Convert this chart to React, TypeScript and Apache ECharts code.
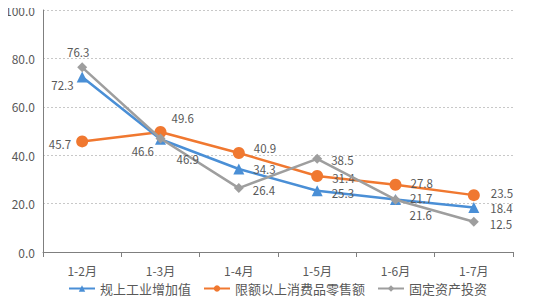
import React, { useEffect, useRef } from "react";
import * as echarts from "echarts";

const categories = ["1-2月", "1-3月", "1-4月", "1-5月", "1-6月", "1-7月"];
const industry = [72.3, 46.6, 34.3, 25.3, 21.7, 18.4];
const retail = [45.7, 49.6, 40.9, 31.4, 27.8, 23.5];
const investment = [76.3, 46.9, 26.4, 38.5, 21.6, 12.5];
const seriesNames = ["规上工业增加值", "限额以上消费品零售额", "固定资产投资"];

// label placement per point: [position, offsetX, offsetY]
const industryLabelPos: [string, number, number][] = [
  ["left", 2, 8], ["left", 4, 12], ["right", 4, 0], ["right", 4, 2], ["right", 4, -1], ["right", 6, 1],
];
const retailLabelPos: [string, number, number][] = [
  ["left", 0, 3], ["right", 0, -14], ["right", 4, -5], ["right", 4, 2], ["right", 4, -2], ["right", 6, -2],
];
const investmentLabelPos: [string, number, number][] = [
  ["top", -4, 0], ["right", 6, 20], ["right", 4, 2], ["right", 4, 1], ["right", 4, 15], ["right", 6, 2],
];

const TEXT = "#595959";
const FONT = "'Noto Sans CJK SC', 'Noto Sans', sans-serif";

function mkData(vals: number[], pos: [string, number, number][]) {
  return vals.map((v, i) => ({
    value: v,
    label: { position: pos[i][0] as any, offset: [pos[i][1], pos[i][2]] },
  }));
}

export default function App() {
  const ref = useRef<HTMLDivElement>(null);
  useEffect(() => {
    if (!ref.current) return;
    const chart = echarts.init(ref.current, undefined, { renderer: "svg" });
    const labelBase = {
      show: true,
      color: TEXT,
      fontSize: 11.5,
      lineHeight: 11.5,
      fontFamily: FONT,
      formatter: (p: any) => Number(p.value).toFixed(1),
    };
    chart.setOption({
      animation: false,
      textStyle: { fontFamily: FONT },
      grid: { left: 43, right: 42, top: 10, bottom: 56, containLabel: false },
      legend: {
        bottom: 8,
        left: "center",
        itemWidth: 26,
        itemHeight: 8,
        itemGap: 12,
        textStyle: { color: TEXT, fontSize: 13, fontFamily: FONT },
        data: seriesNames,
      },
      xAxis: {
        type: "category",
        data: categories,
        boundaryGap: true,
        axisLine: { show: true, lineStyle: { color: "#7f7f7f", width: 1 } },
        axisTick: { show: true, alignWithLabel: false, length: 5, lineStyle: { color: "#7f7f7f" } },
        axisLabel: { color: TEXT, fontSize: 12, fontFamily: FONT, margin: 12 },
      },
      yAxis: {
        type: "value",
        min: 0,
        max: 100,
        interval: 20,
        axisLine: { show: true, lineStyle: { color: "#7f7f7f", width: 1 } },
        axisTick: { show: false },
        axisLabel: { color: TEXT, fontSize: 12, fontFamily: FONT, formatter: (v: number) => v.toFixed(1), margin: 8 },
        splitLine: { show: true, lineStyle: { color: "#c8c8c8", type: [2, 2] } },
      },
      series: [
        {
          name: seriesNames[0],
          type: "line",
          data: mkData(industry, industryLabelPos),
          symbol: "triangle",
          symbolSize: 11,
          lineStyle: { color: "#4a8fd6", width: 2.5 },
          itemStyle: { color: "#4a8fd6" },
          label: labelBase,
          z: 3,
        },
        {
          name: seriesNames[1],
          type: "line",
          data: mkData(retail, retailLabelPos),
          symbol: "circle",
          symbolSize: 12,
          lineStyle: { color: "#f07830", width: 2.5 },
          itemStyle: { color: "#f07830" },
          label: labelBase,
          z: 2,
        },
        {
          name: seriesNames[2],
          type: "line",
          data: mkData(investment, investmentLabelPos),
          symbol: "diamond",
          symbolSize: 10,
          lineStyle: { color: "#9e9e9e", width: 2.5 },
          itemStyle: { color: "#9e9e9e" },
          label: labelBase,
          z: 4,
        },
      ],
    });
    return () => chart.dispose();
  }, []);
  return <div ref={ref} style={{ width: 555, height: 308, margin: -8 }} />;
}
